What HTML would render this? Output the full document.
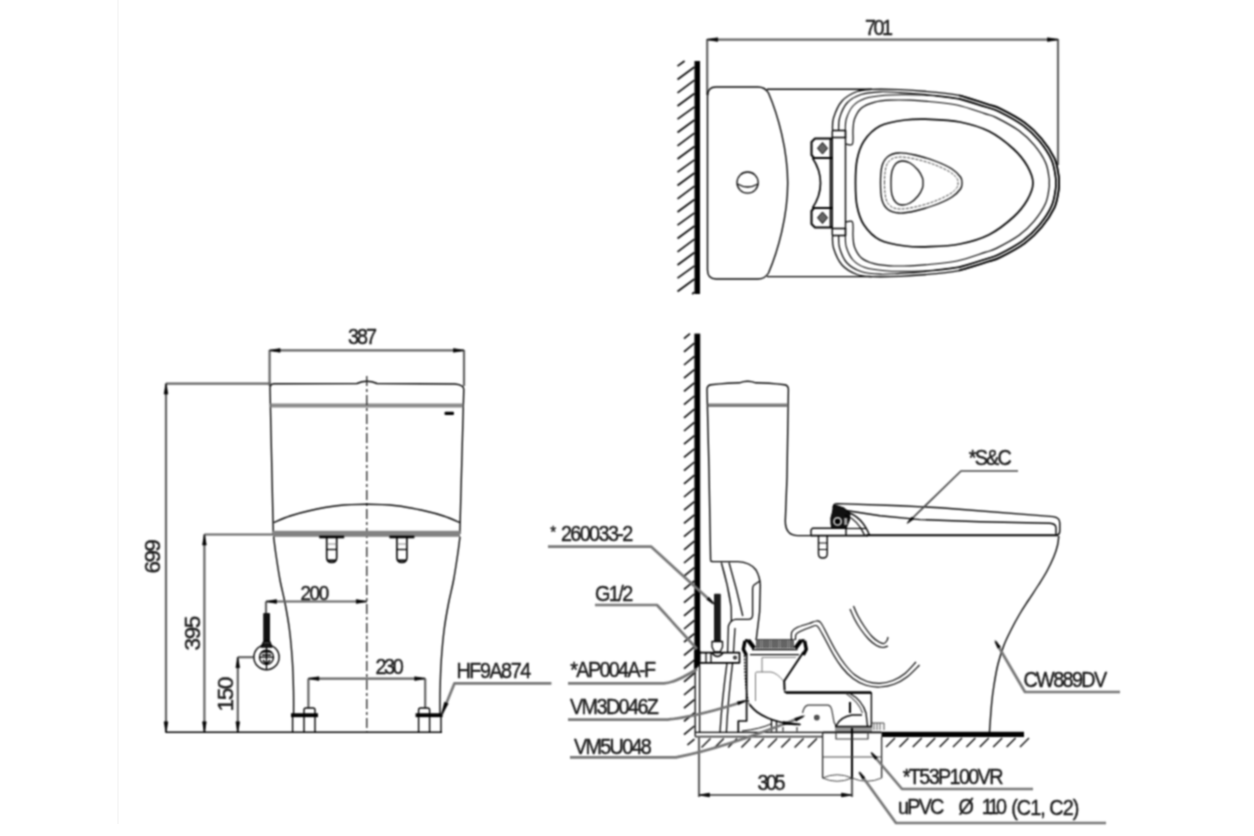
<!DOCTYPE html>
<html lang="en">
<head>
<meta charset="utf-8">
<title>Technical drawing</title>
<style>
html,body{margin:0;padding:0;background:#fff;}
body{width:1254px;height:836px;overflow:hidden;position:relative;}
svg{display:block;position:absolute;left:0;top:0;}
text{font-family:"Liberation Sans",sans-serif;fill:#1a1a1a;stroke:#1a1a1a;stroke-width:0.45px;}
</style>
</head>
<body>
<svg width="1254" height="836" viewBox="0 0 1254 836">
<defs><filter id="soft" x="0" y="0" width="1254" height="836" filterUnits="userSpaceOnUse" color-interpolation-filters="sRGB"><feConvolveMatrix order="3" kernelMatrix="1 2 1 2 4 2 1 2 1" edgeMode="duplicate" preserveAlpha="false"/><feConvolveMatrix order="3" kernelMatrix="0 1 0 1 4 1 0 1 0" edgeMode="duplicate" preserveAlpha="false"/></filter></defs>
<rect x="0" y="0" width="1254" height="836" fill="#fff"/>
<line x1="118" y1="0" x2="118" y2="824" stroke="#f8f8f8" stroke-width="2"/>
<g filter="url(#soft)" stroke-linecap="butt" stroke-linejoin="round">
<rect x="694.5" y="61" width="5.5" height="233" fill="#000" stroke="none" stroke-width="0" rx="0"/>
<path d="M684.6,61L677.5,66.2" fill="none" stroke="#000" stroke-width="1.6"/>
<path d="M694.5,67L677.5,79.5" fill="none" stroke="#000" stroke-width="1.6"/>
<path d="M694.5,80.2L677.5,92.8" fill="none" stroke="#000" stroke-width="1.6"/>
<path d="M694.5,93.5L677.5,106" fill="none" stroke="#000" stroke-width="1.6"/>
<path d="M694.5,106.8L677.5,119.2" fill="none" stroke="#000" stroke-width="1.6"/>
<path d="M694.5,120L677.5,132.5" fill="none" stroke="#000" stroke-width="1.6"/>
<path d="M694.5,133.2L677.5,145.8" fill="none" stroke="#000" stroke-width="1.6"/>
<path d="M694.5,146.5L677.5,159" fill="none" stroke="#000" stroke-width="1.6"/>
<path d="M694.5,159.8L677.5,172.2" fill="none" stroke="#000" stroke-width="1.6"/>
<path d="M694.5,173L677.5,185.5" fill="none" stroke="#000" stroke-width="1.6"/>
<path d="M694.5,186.2L677.5,198.8" fill="none" stroke="#000" stroke-width="1.6"/>
<path d="M694.5,199.5L677.5,212" fill="none" stroke="#000" stroke-width="1.6"/>
<path d="M694.5,212.8L677.5,225.2" fill="none" stroke="#000" stroke-width="1.6"/>
<path d="M694.5,226L677.5,238.5" fill="none" stroke="#000" stroke-width="1.6"/>
<path d="M694.5,239.2L677.5,251.8" fill="none" stroke="#000" stroke-width="1.6"/>
<path d="M694.5,252.5L677.5,265" fill="none" stroke="#000" stroke-width="1.6"/>
<path d="M694.5,265.8L677.5,278.2" fill="none" stroke="#000" stroke-width="1.6"/>
<path d="M694.5,279L677.5,291.5" fill="none" stroke="#000" stroke-width="1.6"/>
<path d="M694.5,292.2L692.1,294" fill="none" stroke="#000" stroke-width="1.6"/>
<path d="M707.2,39.6L1058,39.6" fill="none" stroke="#626262" stroke-width="2.2"/>
<path d="M707.2,39L707.2,95" fill="none" stroke="#626262" stroke-width="2.2"/>
<path d="M1058,39L1058,165" fill="none" stroke="#626262" stroke-width="2.2"/>
<path d="M707.2,39.6L717.7,37.7L717.7,41.5Z" fill="#000" stroke="#000" stroke-width="0.6" stroke-linejoin="round"/>
<path d="M1058,39.6L1047.5,41.5L1047.5,37.7Z" fill="#000" stroke="#000" stroke-width="0.6" stroke-linejoin="round"/>
<path d="M707.5,96 Q707.5,87 716,87 L758,87 Q765,87 768.5,93 C778,115 787.7,150 787.7,183 C787.7,216 778,251 768.5,273 Q765,279 758,279 L716,279 Q707.5,279 707.5,270 Z" fill="none" stroke="#000" stroke-width="1.4"/>
<path d="M767,89.2L872,89.2" fill="none" stroke="#000" stroke-width="1.4"/>
<path d="M767,276.6L872,276.6" fill="none" stroke="#000" stroke-width="1.4"/>
<circle cx="747.6" cy="182.6" r="10.6" fill="none" stroke="#000" stroke-width="1.3"/>
<path d="M737.5,184 Q747.6,190 757.8,184" fill="none" stroke="#000" stroke-width="1.3"/>
<path d="M832.5,131C832.7,128.8 831.9,123 833.5,118C835.1,113 838.1,105.4 842,101C845.9,96.6 852,93.4 857,91.5C862,89.6 864.8,89.7 872,89.4C879.2,89.1 890.3,89.3 900,89.7C909.7,90.1 920.4,90.9 930.2,91.8C940,92.8 949.4,93.4 959,95.4C968.7,97.5 980.9,102 987.9,104.3C994.8,106.5 994.6,105.8 1000.7,108.9C1006.9,112 1018,117.8 1024.8,122.8C1031.7,127.8 1036.9,133 1041.8,139C1046.8,144.9 1051.6,152.3 1054.5,158.4C1057.3,164.6 1057.9,171.6 1058.7,175.7C1059.4,179.8 1059,180.6 1059,183C1059,185.4 1059.4,186.2 1058.7,190.3C1057.9,194.4 1057.3,201.4 1054.5,207.6C1051.6,213.7 1046.8,221.1 1041.8,227C1036.9,233 1031.7,238.2 1024.8,243.2C1018,248.2 1006.9,254 1000.7,257.1C994.6,260.2 994.8,259.5 987.9,261.7C980.9,264 968.7,268.5 959,270.6C949.4,272.6 940,273.2 930.2,274.2C920.4,275.1 909.7,275.9 900,276.3C890.3,276.7 879.2,276.9 872,276.6C864.8,276.3 862,276.4 857,274.5C852,272.6 845.9,269.4 842,265C838.1,260.6 835.1,253 833.5,248C831.9,243 832.7,237.2 832.5,235" fill="none" stroke="#000" stroke-width="1.3"/>
<path d="M959,95.4C963.8,96.9 980.9,102 987.9,104.3C994.8,106.5 994.6,105.8 1000.7,108.9C1006.9,112 1018,117.8 1024.8,122.8C1031.7,127.8 1036.9,133 1041.8,139C1046.8,144.9 1051.6,152.3 1054.5,158.4C1057.3,164.6 1057.9,171.6 1058.7,175.7C1059.4,179.8 1059,180.6 1059,183C1059,185.4 1059.4,186.2 1058.7,190.3C1057.9,194.4 1057.3,201.4 1054.5,207.6C1051.6,213.7 1046.8,221.1 1041.8,227C1036.9,233 1031.7,238.2 1024.8,243.2C1018,248.2 1006.9,254 1000.7,257.1C994.6,260.2 994.8,259.5 987.9,261.7C980.9,264 963.8,269.1 959,270.6" fill="none" stroke="#000" stroke-width="1.9"/>
<path d="M838.6,131C838.8,128.8 838.2,122.7 839.6,118C841,113.3 843.4,106.9 847,103C850.6,99.1 855.5,96.4 861,94.5C866.5,92.6 873.5,92.1 880,91.8C886.5,91.5 891.7,92.1 900,92.6C908.3,93.1 920.1,94 929.8,95C939.5,96 948.8,96.5 958.4,98.6C967.9,100.6 980.1,105.1 986.9,107.3C993.7,109.5 993.3,108.7 999.3,111.7C1005.3,114.7 1016.3,120.5 1023,125.4C1029.6,130.3 1034.6,135.3 1039.4,141C1044.1,146.8 1048.9,153.9 1051.5,159.8C1054.2,165.6 1054.8,172.4 1055.5,176.3C1056.2,180.2 1055.8,180.8 1055.8,183C1055.8,185.2 1056.2,185.8 1055.5,189.7C1054.8,193.6 1054.2,200.4 1051.5,206.2C1048.9,212.1 1044.1,219.2 1039.4,225C1034.6,230.7 1029.6,235.7 1023,240.6C1016.3,245.5 1005.3,251.3 999.3,254.3C993.3,257.3 993.7,256.5 986.9,258.7C980.1,260.9 967.9,265.4 958.4,267.4C948.8,269.5 939.5,270 929.8,271C920.1,272 908.3,272.9 900,273.4C891.7,273.9 886.5,274.5 880,274.2C873.5,273.9 866.5,273.4 861,271.5C855.5,269.6 850.6,266.9 847,263C843.4,259.1 841,252.7 839.6,248C838.2,243.3 838.8,237.2 838.6,235" fill="none" stroke="#000" stroke-width="1.2"/>
<path d="M958.4,98.6C963.1,100 980.1,105.1 986.9,107.3C993.7,109.5 993.3,108.7 999.3,111.7C1005.3,114.7 1016.3,120.5 1023,125.4C1029.6,130.3 1034.6,135.3 1039.4,141C1044.1,146.8 1048.9,153.9 1051.5,159.8C1054.2,165.6 1054.8,172.4 1055.5,176.3C1056.2,180.2 1055.8,180.8 1055.8,183C1055.8,185.2 1056.2,185.8 1055.5,189.7C1054.8,193.6 1054.2,200.4 1051.5,206.2C1048.9,212.1 1044.1,219.2 1039.4,225C1034.6,230.7 1029.6,235.7 1023,240.6C1016.3,245.5 1005.3,251.3 999.3,254.3C993.3,257.3 993.7,256.5 986.9,258.7C980.1,260.9 963.1,266 958.4,267.4" fill="none" stroke="#000" stroke-width="1.7"/>
<path d="M845.3,131C845.5,129 845,123.2 846.3,119C847.6,114.8 849.9,109.4 853,106C856.1,102.6 859.7,100.3 865,98.5C870.3,96.7 878.3,95.9 885,95.3C891.7,94.7 897.5,94.8 905,94.8C912.5,94.8 921.2,94.8 930,95.5C938.8,96.2 953.3,98.4 958,99" fill="none" stroke="#000" stroke-width="1.1"/>
<path d="M845.3,235C845.5,237 845,242.8 846.3,247C847.6,251.2 849.9,256.6 853,260C856.1,263.4 859.7,265.7 865,267.5C870.3,269.3 878.3,270.1 885,270.7C891.7,271.3 897.5,271.2 905,271.2C912.5,271.2 921.2,271.2 930,270.5C938.8,269.8 953.3,267.6 958,267" fill="none" stroke="#000" stroke-width="1.1"/>
<path d="M846,144C847.1,144 851.3,146.3 852.5,144C853.7,141.7 852.7,134.2 853,130C853.3,125.8 853.1,122.7 854.5,119C855.9,115.3 858.2,110.8 861.5,108C864.8,105.2 869.2,103.6 874,102.3C878.8,101 884,100.5 890,100.2C896,99.9 903.5,100 910,100.2C916.5,100.4 921.2,100.7 929,101.5C936.8,102.3 947.7,103 957,105C966.3,107 978.3,111.5 984.9,113.6C991.4,115.7 990.6,114.8 996.3,117.6C1002,120.5 1012.7,126.1 1019.1,130.7C1025.4,135.3 1029.9,139.9 1034.3,145.2C1038.7,150.5 1043.1,157.1 1045.5,162.5C1048,167.9 1048.4,174.1 1049,177.5C1049.6,180.9 1049.2,181.2 1049.2,183C1049.2,184.8 1049.6,185.1 1049,188.5C1048.4,191.9 1048,198.1 1045.5,203.5C1043.1,208.9 1038.7,215.5 1034.3,220.8C1029.9,226.1 1025.4,230.7 1019.1,235.3C1012.7,239.9 1002,245.5 996.3,248.4C990.6,251.2 991.4,250.3 984.9,252.4C978.3,254.5 966.3,259 957,261C947.7,263 936.8,263.7 929,264.5C921.2,265.3 916.5,265.6 910,265.8C903.5,266 896,266.2 890,265.8C884,265.4 878.8,265 874,263.7C869.2,262.4 864.8,260.8 861.5,258C858.2,255.2 855.9,250.7 854.5,247C853.1,243.3 853.3,240.2 853,236C852.7,231.8 853.7,224.3 852.5,222C851.3,219.7 847.1,222 846,222" fill="none" stroke="#000" stroke-width="1.2"/>
<path d="M855.5,183C855.5,175.3 855.6,167 857,160C858.4,153 860.2,146.7 864,141C867.8,135.3 873.2,129.5 880,126C886.8,122.5 896.7,121.1 905,120C913.3,118.9 920.8,119 930,119.3C939.2,119.6 950.2,120 960,122C969.8,124 980.1,126.8 989,131.3C997.9,135.8 1007.1,143.2 1013.5,149C1019.9,154.8 1024,160.3 1027.3,166C1030.5,171.7 1033,177.3 1033,183C1033,188.7 1030.5,194.3 1027.3,200C1024,205.7 1019.9,211.2 1013.5,217C1007.1,222.8 997.9,230.2 989,234.7C980.1,239.2 969.8,242 960,244C950.2,246 939.2,246.4 930,246.7C920.8,247 913.3,247.1 905,246C896.7,244.9 886.8,243.5 880,240C873.2,236.5 867.8,230.7 864,225C860.2,219.3 858.4,213 857,206C855.6,199 855.5,190.7 855.5,183Z" fill="none" stroke="#000" stroke-width="1.7"/>
<path d="M880.5,183C880.5,177.3 880.8,170.4 882,166C883.2,161.6 885.2,158.7 888,156.5C890.8,154.3 894.5,153.2 899,153C903.5,152.8 909,153.7 915,155C921,156.3 928.8,158.7 935,161C941.2,163.3 947.8,166.3 952,169C956.2,171.7 958.8,174.7 960.5,177C962.2,179.3 962,181 962,183C962,185 962.2,186.7 960.5,189C958.8,191.3 956.2,194.3 952,197C947.8,199.7 941.2,202.7 935,205C928.8,207.3 921,209.7 915,211C909,212.3 903.5,213.2 899,213C894.5,212.8 890.8,211.7 888,209.5C885.2,207.3 883.2,204.4 882,200C880.8,195.6 880.5,188.7 880.5,183Z" fill="none" stroke="#000" stroke-width="1.3"/>
<path d="M884.5,183C884.5,177.7 884.9,170.9 886,167C887.1,163.1 888.7,161.2 891,159.5C893.3,157.8 896,157.1 900,157C904,156.9 909.3,157.8 915,159C920.7,160.2 928.2,162.3 934,164.5C939.8,166.7 946.2,169.7 950,172C953.8,174.3 955.7,176.7 957,178.5C958.3,180.3 958,181.5 958,183C958,184.5 958.3,185.7 957,187.5C955.7,189.3 953.8,191.7 950,194C946.2,196.3 939.8,199.3 934,201.5C928.2,203.7 920.7,205.8 915,207C909.3,208.2 904,209.1 900,209C896,208.9 893.3,208.2 891,206.5C888.7,204.8 887.1,202.9 886,199C884.9,195.1 884.5,188.3 884.5,183Z" fill="none" stroke="#444" stroke-width="1" stroke-dasharray="3 1.2"/>
<path d="M891,183C891,179 891.2,174.2 892,171C892.8,167.8 894.3,165.2 896,163.5C897.7,161.8 899.7,161.1 902,161C904.3,160.9 907.3,161.5 910,163C912.7,164.5 915.9,167.5 918,170C920.1,172.5 921.7,175.8 922.5,178C923.3,180.2 923,181.3 923,183C923,184.7 923.3,185.8 922.5,188C921.7,190.2 920.1,193.5 918,196C915.9,198.5 912.7,201.5 910,203C907.3,204.5 904.3,205.1 902,205C899.7,204.9 897.7,204.2 896,202.5C894.3,200.8 892.8,198.2 892,195C891.2,191.8 891,187 891,183Z" fill="none" stroke="#000" stroke-width="1.3"/>
<path d="M832.3,131L832.3,235" fill="none" stroke="#000" stroke-width="1.4"/>
<path d="M830.5,139L830.5,227" fill="none" stroke="#000" stroke-width="1.7"/>
<path d="M845.5,137L845.5,229" fill="none" stroke="#000" stroke-width="1.4"/>
<path d="M832.3,130.5L845.5,130.5L845.5,137.5L832.3,137.5" fill="none" stroke="#000" stroke-width="1.7"/>
<path d="M832.5,138.5L815,138.5L811.5,142L811.5,155L814,158L832.5,158" fill="none" stroke="#000" stroke-width="2.1"/>
<path d="M822.5,142.5L827.5,148.3L822.5,154L817.5,148.3Z" fill="#666" stroke="#000" stroke-width="1"/>
<path d="M812.5,158 Q820.5,170 820.5,183" fill="none" stroke="#000" stroke-width="1.7"/>
<path d="M832.3,235.5L845.5,235.5L845.5,228.5L832.3,228.5" fill="none" stroke="#000" stroke-width="1.7"/>
<path d="M832.5,227.5L815,227.5L811.5,224L811.5,211L814,208L832.5,208" fill="none" stroke="#000" stroke-width="2.1"/>
<path d="M822.5,223.5L827.5,217.7L822.5,212L817.5,217.7Z" fill="#666" stroke="#000" stroke-width="1"/>
<path d="M812.5,208 Q820.5,196 820.5,183" fill="none" stroke="#000" stroke-width="1.7"/>
<path d="M269.6,350.4L464,350.4" fill="none" stroke="#626262" stroke-width="2.2"/>
<path d="M269.6,350L269.6,386" fill="none" stroke="#626262" stroke-width="2.2"/>
<path d="M464,350L464,386" fill="none" stroke="#626262" stroke-width="2.2"/>
<path d="M269.6,350.4L280.1,348.5L280.1,352.3Z" fill="#000" stroke="#000" stroke-width="0.6" stroke-linejoin="round"/>
<path d="M464,350.4L453.5,352.3L453.5,348.5Z" fill="#000" stroke="#000" stroke-width="0.6" stroke-linejoin="round"/>
<path d="M273.3,534 L270,388 Q270,384 274,383.8 L357,383.5 Q362,381.3 366.8,381.3 Q372,381.3 377,383.5 L455,384 Q463.5,385 463.8,389 L459.8,534" fill="none" stroke="#000" stroke-width="1.4"/>
<path d="M270.3,405.5L463.3,405.5" fill="none" stroke="#8a8a8a" stroke-width="3.9"/>
<rect x="444.5" y="411.8" width="9.5" height="3.2" fill="#000" stroke="none" stroke-width="0" rx="1.2"/>
<path d="M166,383.6L271,383.6" fill="none" stroke="#626262" stroke-width="2.2"/>
<path d="M166,383.6L166,732.3" fill="none" stroke="#626262" stroke-width="2.2"/>
<path d="M166,383.6L167.9,394.1L164.1,394.1Z" fill="#000" stroke="#000" stroke-width="0.6" stroke-linejoin="round"/>
<path d="M166,732.3L164.1,721.8L167.9,721.8Z" fill="#000" stroke="#000" stroke-width="0.6" stroke-linejoin="round"/>
<path d="M204.4,534.5L273,534.5" fill="none" stroke="#626262" stroke-width="2.2"/>
<path d="M204.4,534.5L204.4,732.3" fill="none" stroke="#626262" stroke-width="2.2"/>
<path d="M204.4,534.5L206.3,545L202.5,545Z" fill="#000" stroke="#000" stroke-width="0.6" stroke-linejoin="round"/>
<path d="M204.4,732.3L202.5,721.8L206.3,721.8Z" fill="#000" stroke="#000" stroke-width="0.6" stroke-linejoin="round"/>
<path d="M237.8,657.2L253.5,657.2" fill="none" stroke="#626262" stroke-width="2.2"/>
<path d="M237.8,657.2L237.8,732.3" fill="none" stroke="#626262" stroke-width="2.2"/>
<path d="M237.8,657.2L239.7,667.7L235.9,667.7Z" fill="#000" stroke="#000" stroke-width="0.6" stroke-linejoin="round"/>
<path d="M237.8,732.3L235.9,721.8L239.7,721.8Z" fill="#000" stroke="#000" stroke-width="0.6" stroke-linejoin="round"/>
<path d="M165.5,732.3L442,732.3" fill="none" stroke="#000" stroke-width="1.6"/>
<path d="M366.8,376L366.8,732.3" fill="none" stroke="#222" stroke-width="1.3" stroke-dasharray="10 3 3 3"/>
<rect x="273" y="530.8" width="187" height="6" fill="#828282" stroke="none" stroke-width="0" rx="0"/>
<path d="M273.8,522.5C276.5,521.4 284.2,517.9 290,516C295.8,514.1 300.5,512.7 308.3,511C316.1,509.3 327.2,506.9 337,505.8C346.8,504.7 356.9,504.3 366.8,504.3C376.7,504.3 386.9,504.7 396.6,505.8C406.4,506.9 417.5,509.3 425.3,511C433.1,512.7 437.9,514.1 443.6,516C449.4,517.9 457.1,521.4 459.8,522.5" fill="none" stroke="#000" stroke-width="1.4"/>
<path d="M273.6,536.6C274,539.7 274.9,547.8 276,555C277.1,562.2 278.5,572 280,580C281.5,588 283.4,594.7 285,603C286.6,611.3 288.3,620.5 289.5,630C290.7,639.5 291.6,650 292.3,660C293,670 293.3,681 293.5,690C293.7,699 293.6,710 293.6,714" fill="none" stroke="#000" stroke-width="1.4"/>
<path d="M460,536.6C459.6,539.7 458.7,547.8 457.6,555C456.5,562.2 455.1,572 453.6,580C452.1,588 450.2,594.7 448.6,603C447,611.3 445.3,620.5 444.1,630C442.9,639.5 442,650 441.3,660C440.6,670 440.3,681 440.1,690C439.9,699 440,710 440,714" fill="none" stroke="#000" stroke-width="1.4"/>
<path d="M292.6,714L292.6,732.3" fill="none" stroke="#000" stroke-width="1.4"/>
<path d="M441,714L441,732.3" fill="none" stroke="#000" stroke-width="1.4"/>
<path d="M319.2,537L344.2,537" fill="none" stroke="#000" stroke-width="2.6"/>
<path d="M326.7,538 L326.7,557.5 Q326.7,562.5 331.7,562.5 Q336.7,562.5 336.7,557.5 L336.7,538" fill="none" stroke="#000" stroke-width="1.6"/>
<path d="M326.7,549.5L336.7,549.5" fill="none" stroke="#000" stroke-width="1.3"/>
<path d="M326.7,544L336.7,544" fill="none" stroke="#666" stroke-width="0.8"/>
<path d="M327.7,560.5L335.7,560.5" fill="none" stroke="#000" stroke-width="2.1"/>
<path d="M389.4,537L414.4,537" fill="none" stroke="#000" stroke-width="2.6"/>
<path d="M396.9,538 L396.9,557.5 Q396.9,562.5 401.9,562.5 Q406.9,562.5 406.9,557.5 L406.9,538" fill="none" stroke="#000" stroke-width="1.6"/>
<path d="M396.9,549.5L406.9,549.5" fill="none" stroke="#000" stroke-width="1.3"/>
<path d="M396.9,544L406.9,544" fill="none" stroke="#666" stroke-width="0.8"/>
<path d="M397.9,560.5L405.9,560.5" fill="none" stroke="#000" stroke-width="2.1"/>
<path d="M266,601.5L366.8,601.5" fill="none" stroke="#626262" stroke-width="2.2"/>
<path d="M266,601.5L266,613" fill="none" stroke="#626262" stroke-width="2.2"/>
<path d="M266,601.5L276.5,599.6L276.5,603.4Z" fill="#000" stroke="#000" stroke-width="0.6" stroke-linejoin="round"/>
<path d="M366.8,601.5L356.3,603.4L356.3,599.6Z" fill="#000" stroke="#000" stroke-width="0.6" stroke-linejoin="round"/>
<rect x="263.2" y="613" width="6.8" height="28" fill="#111" stroke="none" stroke-width="0" rx="1"/>
<path d="M264,641L269.5,641L272,647L261,647Z" fill="#333" stroke="#000" stroke-width="1.3"/>
<circle cx="266.5" cy="657.2" r="12.6" fill="none" stroke="#000" stroke-width="1.4"/>
<circle cx="266.5" cy="657.2" r="7" fill="none" stroke="#000" stroke-width="1.4"/>
<path d="M259.5,657.2L273.5,657.2" fill="none" stroke="#000" stroke-width="1.3"/>
<path d="M266.5,647L266.5,670" fill="none" stroke="#000" stroke-width="1.3"/>
<path d="M261.5,652 h10 M262,655 h9" fill="none" stroke="#000" stroke-width="1.3"/>
<path d="M263,660 L266.5,664.5 L270,660" fill="none" stroke="#000" stroke-width="1.6"/>
<path d="M308.4,678.6L425.2,678.6" fill="none" stroke="#626262" stroke-width="2.2"/>
<path d="M308.4,678.6L308.4,708" fill="none" stroke="#626262" stroke-width="2.2"/>
<path d="M425.2,678.6L425.2,708" fill="none" stroke="#626262" stroke-width="2.2"/>
<path d="M308.4,678.6L318.9,676.7L318.9,680.5Z" fill="#000" stroke="#000" stroke-width="0.6" stroke-linejoin="round"/>
<path d="M425.2,678.6L414.7,680.5L414.7,676.7Z" fill="#000" stroke="#000" stroke-width="0.6" stroke-linejoin="round"/>
<path d="M304,732.3 L304,710 Q304,708 306,708 L313,708 Q315,708 315,710 L315,732.3" fill="none" stroke="#000" stroke-width="1.4"/>
<path d="M291,715.2L318,715.2" fill="none" stroke="#000" stroke-width="3.9"/>
<path d="M418.6,732.3 L418.6,710 Q418.6,708 420.6,708 L427.6,708 Q429.6,708 429.6,710 L429.6,732.3" fill="none" stroke="#000" stroke-width="1.4"/>
<path d="M415.6,715.2L442.6,715.2" fill="none" stroke="#000" stroke-width="3.9"/>
<path d="M551.4,683.3L454.5,683.3L442,714" fill="none" stroke="#767676" stroke-width="2.7"/>
<path d="M441.5,715L444.5,702.2L448.2,703.7Z" fill="#000" stroke="#000" stroke-width="0.6" stroke-linejoin="round"/>
<rect x="694.4" y="333.6" width="5.8" height="318" fill="#000" stroke="none" stroke-width="0" rx="0"/>
<path d="M694.4,651 L700.2,651 L700.2,660 Q699,668 695,669 L694.4,669 Z" fill="#000" stroke="#000" stroke-width="0.7"/>
<path d="M695.2,660L695.2,736.5" fill="none" stroke="#000" stroke-width="1.3"/>
<path d="M699.6,660L699.6,732" fill="none" stroke="#000" stroke-width="1.3"/>
<path d="M690,333.6L684,338.6" fill="none" stroke="#000" stroke-width="1.6"/>
<path d="M694.4,343.2L684,351.8" fill="none" stroke="#000" stroke-width="1.6"/>
<path d="M694.4,356.4L684,365" fill="none" stroke="#000" stroke-width="1.6"/>
<path d="M694.4,369.6L684,378.2" fill="none" stroke="#000" stroke-width="1.6"/>
<path d="M694.4,382.8L684,391.4" fill="none" stroke="#000" stroke-width="1.6"/>
<path d="M694.4,396L684,404.6" fill="none" stroke="#000" stroke-width="1.6"/>
<path d="M694.4,409.2L684,417.8" fill="none" stroke="#000" stroke-width="1.6"/>
<path d="M694.4,422.4L684,431" fill="none" stroke="#000" stroke-width="1.6"/>
<path d="M694.4,435.6L684,444.2" fill="none" stroke="#000" stroke-width="1.6"/>
<path d="M694.4,448.8L684,457.4" fill="none" stroke="#000" stroke-width="1.6"/>
<path d="M694.4,462L684,470.6" fill="none" stroke="#000" stroke-width="1.6"/>
<path d="M694.4,475.2L684,483.8" fill="none" stroke="#000" stroke-width="1.6"/>
<path d="M694.4,488.4L684,497" fill="none" stroke="#000" stroke-width="1.6"/>
<path d="M694.4,501.6L684,510.2" fill="none" stroke="#000" stroke-width="1.6"/>
<path d="M694.4,514.8L684,523.4" fill="none" stroke="#000" stroke-width="1.6"/>
<path d="M694.4,528L684,536.6" fill="none" stroke="#000" stroke-width="1.6"/>
<path d="M694.4,541.2L684,549.8" fill="none" stroke="#000" stroke-width="1.6"/>
<path d="M694.4,554.4L684,563" fill="none" stroke="#000" stroke-width="1.6"/>
<path d="M694.4,567.6L684,576.2" fill="none" stroke="#000" stroke-width="1.6"/>
<path d="M694.4,580.8L684,589.4" fill="none" stroke="#000" stroke-width="1.6"/>
<path d="M694.4,594L684,602.6" fill="none" stroke="#000" stroke-width="1.6"/>
<path d="M694.4,607.2L684,615.8" fill="none" stroke="#000" stroke-width="1.6"/>
<path d="M694.4,620.4L684,629" fill="none" stroke="#000" stroke-width="1.6"/>
<path d="M694.4,633.6L684,642.2" fill="none" stroke="#000" stroke-width="1.6"/>
<path d="M694.4,646.8L684,655.4" fill="none" stroke="#000" stroke-width="1.6"/>
<path d="M694.4,660L684,668.6" fill="none" stroke="#000" stroke-width="1.6"/>
<path d="M694.4,673.2L684,681.8" fill="none" stroke="#000" stroke-width="1.6"/>
<path d="M694.4,686.4L684,695" fill="none" stroke="#000" stroke-width="1.6"/>
<path d="M694.4,699.6L684,708.2" fill="none" stroke="#000" stroke-width="1.6"/>
<path d="M694.4,712.8L684,721.4" fill="none" stroke="#000" stroke-width="1.6"/>
<path d="M694.4,726L684,734.6" fill="none" stroke="#000" stroke-width="1.6"/>
<path d="M694.4,739.2L687.4,745" fill="none" stroke="#000" stroke-width="1.6"/>
<path d="M710.6,560.5 L709,470 L707,389.5 Q707,385.3 711,384.8 Q730,382.8 739.5,382.8 Q747.5,379.8 755.7,382.8 Q768,382.8 784.5,384.8 Q788.4,385.3 788.4,389.5 L787,477 L785.3,521 Q785.3,535.6 798,535.6 L812,535.6" fill="none" stroke="#000" stroke-width="1.4"/>
<path d="M707.6,405.2L788,405.2" fill="none" stroke="#7a7a7a" stroke-width="3.4"/>
<path d="M710.6,560.5 Q710.8,561.6 713.5,561.6 L738,561.6 Q750,562 756,570 Q760,577 760.3,585 L759.6,612 L756.3,639" fill="none" stroke="#000" stroke-width="1.4"/>
<path d="M759.8,581 L754,585 Q752.6,586 752.6,589 L752.6,615 Q752.6,619.4 748,619.4 L735.5,619.4 Q730.5,620 728.4,626 L727.6,652" fill="none" stroke="#000" stroke-width="1.3"/>
<path d="M721.3,562.5 Q728,585 731.2,607 L731.4,622" fill="none" stroke="#000" stroke-width="1.3"/>
<path d="M729,562.5 Q737,590 742.8,616" fill="none" stroke="#000" stroke-width="1.3"/>
<path d="M735,628L733.5,652" fill="none" stroke="#000" stroke-width="1.2"/>
<rect x="714" y="593.7" width="6.8" height="48" fill="#1a1a1a" stroke="none" stroke-width="0" rx="1"/>
<path d="M712,641.5L722.5,641.5L722.5,647L720,652L714.5,652L712,647Z" fill="none" stroke="#000" stroke-width="1.3"/>
<path d="M696,652.6L739.5,652.6L739.5,662.8L696,662.8Z" fill="none" stroke="#000" stroke-width="1.7"/>
<path d="M706,652.6L706,662.8" fill="none" stroke="#000" stroke-width="1.3"/>
<path d="M711,652.6L711,662.8" fill="none" stroke="#000" stroke-width="1.3"/>
<path d="M712,653 Q717.5,660 723,653" fill="none" stroke="#000" stroke-width="1.3"/>
<circle cx="735" cy="657.6" r="1.3" fill="none" stroke="#000" stroke-width="1.3"/>
<path d="M727,662.8 Q722,700 720,732" fill="none" stroke="#000" stroke-width="1.3"/>
<path d="M732.6,662.8 Q728,700 726.4,732" fill="none" stroke="#000" stroke-width="1.3"/>
<path d="M746.6,654 L746.6,721 L738.3,721 L738.3,732" fill="none" stroke="#000" stroke-width="1.7"/>
<path d="M744.5,655 Q745,690 749,704" fill="none" stroke="#000" stroke-width="1.3" stroke-dasharray="2 1.2"/>
<path d="M745,640.8L743.3,649.3L746.3,655" fill="none" stroke="#000" stroke-width="3.4"/>
<path d="M748.3,640.3L754.3,648.3" fill="none" stroke="#000" stroke-width="4.2"/>
<path d="M745,640.5L748.5,640.5" fill="none" stroke="#000" stroke-width="2.6"/>
<path d="M804.6,640.8L806.3,649.3L803.3,655" fill="none" stroke="#000" stroke-width="3.4"/>
<path d="M801.3,640.3L795.3,648.3" fill="none" stroke="#000" stroke-width="4.2"/>
<path d="M804.6,640.5L801.1,640.5" fill="none" stroke="#000" stroke-width="2.6"/>
<path d="M757,639.2L757,648.6" fill="none" stroke="#222" stroke-width="1.5"/>
<path d="M759.2,639.2L759.2,648.6" fill="none" stroke="#222" stroke-width="1.5"/>
<path d="M761.5,639.2L761.5,648.6" fill="none" stroke="#222" stroke-width="1.5"/>
<path d="M763.8,639.2L763.8,648.6" fill="none" stroke="#222" stroke-width="1.5"/>
<path d="M766,639.2L766,648.6" fill="none" stroke="#222" stroke-width="1.5"/>
<path d="M768.2,639.2L768.2,648.6" fill="none" stroke="#222" stroke-width="1.5"/>
<path d="M770.5,639.2L770.5,648.6" fill="none" stroke="#222" stroke-width="1.5"/>
<path d="M772.8,639.2L772.8,648.6" fill="none" stroke="#222" stroke-width="1.5"/>
<path d="M775,639.2L775,648.6" fill="none" stroke="#222" stroke-width="1.5"/>
<path d="M777.2,639.2L777.2,648.6" fill="none" stroke="#222" stroke-width="1.5"/>
<path d="M779.5,639.2L779.5,648.6" fill="none" stroke="#222" stroke-width="1.5"/>
<path d="M781.8,639.2L781.8,648.6" fill="none" stroke="#222" stroke-width="1.5"/>
<path d="M784,639.2L784,648.6" fill="none" stroke="#222" stroke-width="1.5"/>
<path d="M786.2,639.2L786.2,648.6" fill="none" stroke="#222" stroke-width="1.5"/>
<path d="M788.5,639.2L788.5,648.6" fill="none" stroke="#222" stroke-width="1.5"/>
<path d="M790.8,639.2L790.8,648.6" fill="none" stroke="#222" stroke-width="1.5"/>
<path d="M793,639.2L793,648.6" fill="none" stroke="#222" stroke-width="1.5"/>
<path d="M755,639.6L795,639.6" fill="none" stroke="#444" stroke-width="1"/>
<path d="M752,649.6L797.5,649.6" fill="none" stroke="#000" stroke-width="1.3"/>
<path d="M750,654.6L799,654.6" fill="none" stroke="#000" stroke-width="1.4"/>
<path d="M762,657.5L796,657.5" fill="none" stroke="#777" stroke-width="0.9"/>
<path d="M762,657.5 L762,672 M755.5,701 L755.5,673.5 Q755.5,672 757,672 L771,672 Q777,673 783.5,681" fill="none" stroke="#666" stroke-width="0.9"/>
<path d="M803.5,652 L784.2,681 L784.6,690.5" fill="none" stroke="#000" stroke-width="2"/>
<path d="M784.6,691 Q784.6,692.8 787,692.8 L871.4,692.8 L871.4,730" fill="none" stroke="#000" stroke-width="1.4"/>
<path d="M786,692.6L871,692.6" fill="none" stroke="#000" stroke-width="2.5"/>
<path d="M749.5,704.5C750.8,705.8 754,709.8 757,712C760,714.2 763.9,716.3 767.7,718C771.5,719.7 776,721 780,722C784,723 788.7,723.6 792,724C795.3,724.4 798.7,724.4 800,724.5" fill="none" stroke="#000" stroke-width="1.8"/>
<path d="M771.5,719.5L771.5,731.5" fill="none" stroke="#000" stroke-width="1.3"/>
<path d="M776.5,721L776.5,731.5" fill="none" stroke="#000" stroke-width="1.3"/>
<path d="M783,727L783,731.5" fill="none" stroke="#000" stroke-width="1"/>
<path d="M797,727L797,731.5" fill="none" stroke="#000" stroke-width="1"/>
<path d="M742,731 Q760,729 771,724" fill="none" stroke="#000" stroke-width="1"/>
<path d="M802.5,713 Q804,706 808,705.2 L828,705.2 Q831,705.5 832,711 L834,722 L836,726" fill="none" stroke="#333" stroke-width="1.2"/>
<circle cx="816.8" cy="717.6" r="2.2" fill="#555" stroke="#444" stroke-width="1.3"/>
<rect x="835" y="727" width="37" height="5" fill="#999" stroke="none" stroke-width="0" rx="0"/>
<path d="M835,726.5 L872,726.5" fill="none" stroke="#000" stroke-width="1.3"/>
<path d="M822.6,732.3L881.6,732.3" fill="none" stroke="#000" stroke-width="1.7"/>
<path d="M836,726 Q840,717 852,715 L862,715" fill="none" stroke="#000" stroke-width="1.4"/>
<path d="M850,693.5 Q862,700 866,713 L867.5,726" fill="none" stroke="#000" stroke-width="1.3"/>
<path d="M846,693.5 Q859,702 862.5,713" fill="none" stroke="#555" stroke-width="1.3"/>
<path d="M850,702 L850,713" fill="none" stroke="#000" stroke-width="2.1"/>
<path d="M872,723 L884,723 L884,730" fill="none" stroke="#444" stroke-width="1"/>
<path d="M874,723 v7 M877,723 v7 M880,723 v7" fill="none" stroke="#444" stroke-width="0.9"/>
<path d="M791.5,640C791.5,638.7 790.9,634.1 791.8,632C792.7,629.9 794.1,628.9 797,627.5C799.9,626.1 805.8,624.6 809,623.5C812.2,622.4 814.5,621.1 816.5,621C818.5,620.9 819.1,620.5 821,623C822.9,625.5 825.5,631.3 828,636C830.5,640.7 833.2,646.2 836,651C838.8,655.8 841.8,660.5 845,664.5C848.2,668.5 851.3,672.2 855,675C858.7,677.8 862.8,680.1 867,681.5C871.2,682.9 875.7,683.5 880,683.3C884.3,683.1 888.8,682.1 893,680.5C897.2,678.9 901.2,676.6 905,673.5C908.8,670.4 914.2,663.9 916,662" fill="none" stroke="#000" stroke-width="1.2"/>
<path d="M795.5,640C795.6,639.1 795.2,635.9 796,634.5C796.8,633.1 797.7,632.7 800,631.5C802.3,630.3 807.4,628.5 810,627.5C812.6,626.5 814.1,625.5 815.5,625.5C816.9,625.5 816.9,625.2 818.5,627.5C820.1,629.8 822.6,634.6 825,639C827.4,643.4 830.2,649.2 833,654C835.8,658.8 838.7,663.4 842,667.5C845.3,671.6 849,675.5 853,678.5C857,681.5 861.5,683.9 866,685.3C870.5,686.7 875.3,687.2 880,687C884.7,686.8 889.5,686 894,684.3C898.5,682.6 902.8,680.2 907,677C911.2,673.8 917.4,667 919.5,665" fill="none" stroke="#000" stroke-width="1.2"/>
<path d="M853.5,606C854.2,607.7 856.2,612.7 858,616C859.8,619.3 861.7,622.6 864,626C866.3,629.4 869.5,633.8 872,636.5C874.5,639.2 877,640.8 879,642C881,643.2 882.7,643.8 884,643.5C885.3,643.2 886.3,641.6 887,640.5C887.7,639.4 887.8,637.6 888,637" fill="none" stroke="#000" stroke-width="1.2"/>
<path d="M850,609C850.8,610.7 852.8,615.7 854.5,619C856.2,622.3 858.2,625.7 860.5,629C862.8,632.3 865.8,636.2 868.5,639C871.2,641.8 874.1,644.1 876.5,645.5C878.9,646.9 881.1,647.4 883,647.5C884.9,647.6 887.2,646.2 888,646" fill="none" stroke="#000" stroke-width="1.2"/>
<path d="M811,535L811,530L812.5,528.3L846,528.3L846,535" fill="none" stroke="#000" stroke-width="1.4"/>
<path d="M811,535.6L868,535.6" fill="none" stroke="#000" stroke-width="1.7"/>
<path d="M818.5,536 L818.5,554 Q818.5,558 822.8,558 Q827.2,558 827.2,554 L827.2,536" fill="none" stroke="#000" stroke-width="1.4"/>
<path d="M818.5,543L827.2,543" fill="none" stroke="#000" stroke-width="1"/>
<path d="M818.5,549.5L827.2,549.5" fill="none" stroke="#000" stroke-width="1"/>
<path d="M833.6,505 L832.5,512 Q830,518 831,524 L832,528.5 L846,528.5 L849.5,520 L850,513 L844,508 L838,506 Z" fill="#111" stroke="#000" stroke-width="1"/>
<circle cx="837.6" cy="521.4" r="3.6" fill="#000" stroke="#ddd" stroke-width="1.6"/>
<rect x="844.2" y="518" width="3" height="7" fill="#aaa" stroke="none" stroke-width="0" rx="0"/>
<path d="M833.2,508 Q833.2,503.6 837,503.6 L900,505.8 L940,507.8 L1053,516.6 Q1059.8,517.4 1059.8,523 L1059.8,531 Q1059.8,534.5 1057,535.3" fill="none" stroke="#000" stroke-width="1.4"/>
<path d="M846,510.5 L880,515.8 L920,519.6 L980,521.8 L1050,523.2 Q1056,523.6 1056,528 L1056,534.5" fill="none" stroke="#000" stroke-width="1.4"/>
<path d="M848,512.5 Q862,517 869.5,535" fill="none" stroke="#000" stroke-width="1.4"/>
<path d="M845,515 Q858,520 864.5,535" fill="none" stroke="#000" stroke-width="1.3"/>
<path d="M846,528.5L866,528.5" fill="none" stroke="#000" stroke-width="1.2"/>
<path d="M866,535.3L1058,535.3" fill="none" stroke="#000" stroke-width="2"/>
<path d="M1058.8,536C1058.6,537.5 1058.4,541.5 1057.6,545C1056.8,548.5 1055.5,552.7 1053.7,557C1051.9,561.3 1049.5,566.3 1047,571C1044.5,575.7 1041.6,580.1 1038.5,585C1035.4,589.9 1031.4,595.7 1028.3,600.5C1025.2,605.3 1022.6,609.1 1019.7,614C1016.8,618.9 1013.6,624.8 1011,630C1008.4,635.2 1006.2,639.3 1004,645C1001.8,650.7 999.7,657.3 998,664C996.3,670.7 995.1,678.2 994,685C992.9,691.8 992.2,697.2 991.5,705C990.8,712.8 989.8,727.5 989.5,732" fill="none" stroke="#000" stroke-width="1.4"/>
<path d="M695,732.3L822.5,732.3" fill="none" stroke="#000" stroke-width="1.3"/>
<path d="M695,736.6L822.5,736.6" fill="none" stroke="#444" stroke-width="1.6"/>
<rect x="881.5" y="731.8" width="142.5" height="5.2" fill="#000" stroke="none" stroke-width="0" rx="0"/>
<path d="M710.5,738.5L701.5,747.5" fill="none" stroke="#000" stroke-width="1.3"/>
<path d="M723.8,738.5L714.8,747.5" fill="none" stroke="#000" stroke-width="1.3"/>
<path d="M737.1,738.5L728.1,747.5" fill="none" stroke="#000" stroke-width="1.3"/>
<path d="M750.4,738.5L741.4,747.5" fill="none" stroke="#000" stroke-width="1.3"/>
<path d="M763.7,738.5L754.7,747.5" fill="none" stroke="#000" stroke-width="1.3"/>
<path d="M777,738.5L768,747.5" fill="none" stroke="#000" stroke-width="1.3"/>
<path d="M790.3,738.5L781.3,747.5" fill="none" stroke="#000" stroke-width="1.3"/>
<path d="M803.6,738.5L794.6,747.5" fill="none" stroke="#000" stroke-width="1.3"/>
<path d="M816.9,738.5L807.9,747.5" fill="none" stroke="#000" stroke-width="1.3"/>
<path d="M895,738L886,747" fill="none" stroke="#000" stroke-width="1.3"/>
<path d="M908.4,738L899.4,747" fill="none" stroke="#000" stroke-width="1.3"/>
<path d="M921.8,738L912.8,747" fill="none" stroke="#000" stroke-width="1.3"/>
<path d="M935.2,738L926.2,747" fill="none" stroke="#000" stroke-width="1.3"/>
<path d="M948.6,738L939.6,747" fill="none" stroke="#000" stroke-width="1.3"/>
<path d="M962,738L953,747" fill="none" stroke="#000" stroke-width="1.3"/>
<path d="M975.4,738L966.4,747" fill="none" stroke="#000" stroke-width="1.3"/>
<path d="M988.8,738L979.8,747" fill="none" stroke="#000" stroke-width="1.3"/>
<path d="M1002.2,738L993.2,747" fill="none" stroke="#000" stroke-width="1.3"/>
<path d="M1015.6,738L1006.6,747" fill="none" stroke="#000" stroke-width="1.3"/>
<path d="M1029,738L1020,747" fill="none" stroke="#000" stroke-width="1.3"/>
<path d="M822.6,732L822.6,778" fill="none" stroke="#222" stroke-width="1.3"/>
<path d="M881.6,737L881.6,778" fill="none" stroke="#222" stroke-width="1.3"/>
<path d="M852,728L852,779" fill="none" stroke="#000" stroke-width="2.1"/>
<path d="M822.6,757L881.6,757" fill="none" stroke="#444" stroke-width="1"/>
<path d="M836,732 L836,739 L868,739 L868,732" fill="none" stroke="#333" stroke-width="1.2"/>
<path d="M822.6,778 Q837,784.5 852,778 Q837,771.5 822.6,778" fill="none" stroke="#444" stroke-width="1"/>
<path d="M852,778 Q867,784.5 881.6,778" fill="none" stroke="#444" stroke-width="1"/>
<path d="M699,795L852,795" fill="none" stroke="#626262" stroke-width="2.2"/>
<path d="M699,736L699,797" fill="none" stroke="#626262" stroke-width="2.2"/>
<path d="M852,779L852,797" fill="none" stroke="#626262" stroke-width="2.2"/>
<path d="M699,795L709.5,793.1L709.5,796.9Z" fill="#000" stroke="#000" stroke-width="0.6" stroke-linejoin="round"/>
<path d="M852,795L841.5,796.9L841.5,793.1Z" fill="#000" stroke="#000" stroke-width="0.6" stroke-linejoin="round"/>
<path d="M548,546.6L651,546.6L713.5,603.5" fill="none" stroke="#767676" stroke-width="2.7"/>
<path d="M714.5,604.5L706.8,599.6L708.9,597.2Z" fill="#000" stroke="#000" stroke-width="0.6" stroke-linejoin="round"/>
<path d="M595,605L657,605L697,649" fill="none" stroke="#767676" stroke-width="2.7"/>
<path d="M568,683.4 L664,683.4 Q676,682.5 697,669" fill="none" stroke="#767676" stroke-width="2.7"/>
<path d="M568,719.6 L668,719.6 Q700,716 745,701" fill="none" stroke="#767676" stroke-width="2.7"/>
<path d="M746.5,700.5L738.4,704.8L737.4,701.8Z" fill="#000" stroke="#000" stroke-width="0.6" stroke-linejoin="round"/>
<path d="M570,757.4 L676,757.4 Q725,748 803,716.5" fill="none" stroke="#767676" stroke-width="2.7"/>
<path d="M804.5,715.8L796,721.3L794.7,718.4Z" fill="#000" stroke="#000" stroke-width="0.6" stroke-linejoin="round"/>
<path d="M801,724.5L782.9,724.4L783.2,721.4Z" fill="#000" stroke="#000" stroke-width="0.6" stroke-linejoin="round"/>
<path d="M1018,471L961,471L908,522.5" fill="none" stroke="#444" stroke-width="1.7"/>
<path d="M907,523.5L911.7,516.9L913.8,519Z" fill="#000" stroke="#000" stroke-width="0.6" stroke-linejoin="round"/>
<path d="M1120,692L1025,692L995.5,641.5" fill="none" stroke="#767676" stroke-width="2.7"/>
<path d="M995,640.5L1000.4,646.6L997.8,648.2Z" fill="#000" stroke="#000" stroke-width="0.6" stroke-linejoin="round"/>
<path d="M1033,789L902,789L871.5,753" fill="none" stroke="#767676" stroke-width="2.7"/>
<path d="M871,752.3L877.3,757.4L875.1,759.4Z" fill="#000" stroke="#000" stroke-width="0.6" stroke-linejoin="round"/>
<path d="M1106,823L896,823L859.5,772.5" fill="none" stroke="#767676" stroke-width="2.7"/>
<path d="M859,771.8L864.9,777.4L862.5,779.2Z" fill="#000" stroke="#000" stroke-width="0.6" stroke-linejoin="round"/>
<text transform="translate(550.2 537.9) scale(0.9 1)" font-size="17"><tspan x="0" y="0" font-size="17" letter-spacing="0">* </tspan><tspan x="11.9" y="3.1" font-size="22" letter-spacing="-1.78">260033-2</tspan></text>
<text transform="translate(898 814.3) scale(0.9 1)" font-size="22"><tspan x="0" y="0" font-size="22" letter-spacing="-1.95">uPVC </tspan><tspan x="67.2" y="0.1" font-size="22" letter-spacing="0">Ø </tspan><tspan x="93.1" y="-0.3" font-size="22" letter-spacing="-3.56">110 </tspan><tspan x="125.7" y="0.5" font-size="22" letter-spacing="-1.03">(C1, C2)</tspan></text>
<text transform="translate(864.9 34.5) scale(0.9 1)" font-size="22" letter-spacing="-2.71">701</text>
<text transform="translate(348 344.2) scale(0.9 1)" font-size="22" letter-spacing="-2.29">387</text>
<text transform="translate(160.3 573.4) rotate(-90)" font-size="22.6" letter-spacing="-1.75">699</text>
<text transform="translate(199.6 650.5) rotate(-90)" font-size="22.6" letter-spacing="-1.38">395</text>
<text transform="translate(232.8 711.5) rotate(-90)" font-size="22.6" letter-spacing="-1.38">150</text>
<text transform="translate(300.4 599.7) scale(0.9 1)" font-size="21" letter-spacing="-1.47">200</text>
<text transform="translate(375.4 673.5) scale(0.9 1)" font-size="22" letter-spacing="-2.57">230</text>
<text transform="translate(456.5 678.4) scale(0.9 1)" font-size="22" letter-spacing="-1.65">HF9A874</text>
<text transform="translate(595 601) scale(0.9 1)" font-size="22" letter-spacing="-1.76">G1/2</text>
<text transform="translate(570.3 677) scale(0.9 1)" font-size="22" letter-spacing="-1.84">*AP004A-F</text>
<text transform="translate(570 713.7) scale(0.9 1)" font-size="22" letter-spacing="-1.76">VM3D046Z</text>
<text transform="translate(574 753.7) scale(0.9 1)" font-size="22" letter-spacing="-1.87">VM5U048</text>
<text transform="translate(968.7 465.1) scale(0.9 1)" font-size="22" letter-spacing="-1.93">*S&amp;C</text>
<text transform="translate(1023.4 687.1) scale(0.9 1)" font-size="22" letter-spacing="-1.78">CW889DV</text>
<text transform="translate(902.8 783.6) scale(0.9 1)" font-size="22" letter-spacing="-1.83">*T53P100VR</text>
<text transform="translate(757.4 790.2) scale(0.9 1)" font-size="22" letter-spacing="-2.71">305</text>
</g>
</svg>
</body>
</html>
